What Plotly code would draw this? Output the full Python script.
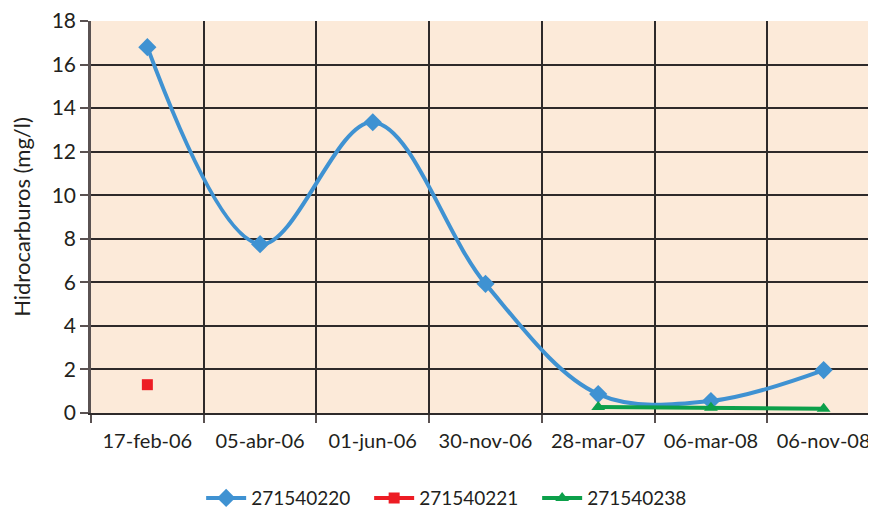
import plotly.graph_objects as go

categories = ["17-feb-06", "05-abr-06", "01-jun-06", "30-nov-06", "28-mar-07", "06-mar-08", "06-nov-08"]
s220 = [16.8, 7.75, 13.35, 5.93, 0.87, 0.55, 1.97]
s221 = [1.3, None, None, None, None, None, None]
s238 = [None, None, None, None, 0.28, 0.24, 0.19]
yticks = [0, 2, 4, 6, 8, 10, 12, 14, 16, 18]

FONT = "Lato"
TXT = "#231F20"

fig = go.Figure()
fig.add_trace(go.Scatter(
    x=categories, y=s220, name="271540220", mode="lines+markers",
    line=dict(color="#3F92D2", width=4, shape="spline", smoothing=1.0),
    marker=dict(symbol="diamond", size=14, color="#3F92D2"),
))
fig.add_trace(go.Scatter(
    x=categories, y=s221, name="271540221", mode="lines+markers",
    line=dict(color="#ED1C24", width=4),
    marker=dict(symbol="square", size=11, color="#ED1C24"),
))
fig.add_trace(go.Scatter(
    x=categories, y=s238, name="271540238", mode="lines+markers",
    line=dict(color="#0CA04A", width=4),
    marker=dict(symbol="triangle-up", size=12, color="#0CA04A"),
))

fig.update_layout(
    width=876, height=511,
    margin=dict(l=83, r=4, t=13, b=106, autoexpand=False),
    paper_bgcolor="white",
    plot_bgcolor="#FCEAD9",
    font=dict(family=FONT, size=20, color=TXT),
    showlegend=True,
    legend=dict(orientation="h", x=0.459, xanchor="center", y=-0.217, yanchor="middle",
                font=dict(size=19, color=TXT), entrywidth=113, entrywidthmode="pixels",
                itemwidth=40, tracegroupgap=0),
    xaxis=dict(
        type="category", range=[-0.5, 6.5], tickson="boundaries", automargin=False,
        tickangle=0, ticklabeloverflow="allow", ticklabelstandoff=9,
        showgrid=True, gridcolor="#2E2A2A", gridwidth=1.5,
        ticks="outside", ticklen=8, tickcolor="#5A5252", tickwidth=2,
        showline=True, linecolor="#2E2A2A", linewidth=1.5,
        tickfont=dict(size=20, color=TXT), zeroline=False,
    ),
    yaxis=dict(
        range=[0, 18], tickvals=yticks, ticktext=[str(v) for v in yticks], automargin=False,
        ticklabeloverflow="allow",
        showgrid=True, gridcolor="#2E2A2A", gridwidth=1.5,
        ticks="outside", ticklen=8, tickcolor="#5A5252", tickwidth=2,
        showline=True, linecolor="#5A5252", linewidth=2.5,
        tickfont=dict(size=21, color=TXT), zeroline=False,
        title=dict(text="Hidrocarburos (mg/l)", font=dict(size=22, color=TXT), standoff=26),
    ),
)

fig.write_html("out.html")
